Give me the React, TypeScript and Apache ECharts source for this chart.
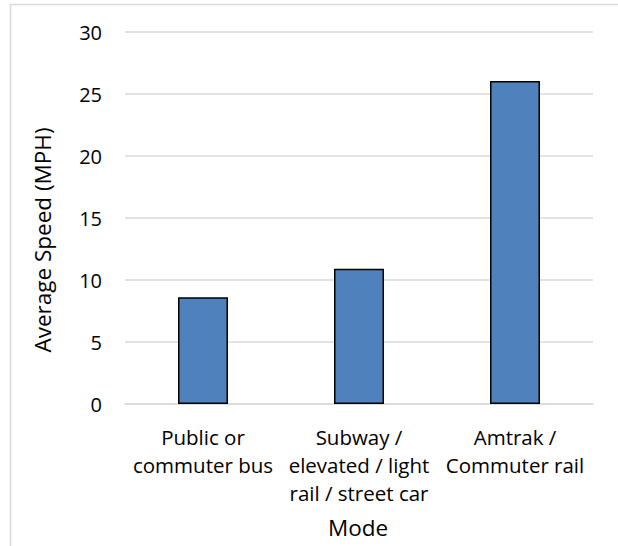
import React, { useEffect, useRef } from "react";
import * as echarts from "echarts";

const categories = [
  "Public or\ncommuter bus",
  "Subway /\nelevated / light\nrail / street car",
  "Amtrak /\nCommuter rail",
];
const speeds = [8.6, 10.9, 26.05];
const yTicks = { min: 0, max: 30, interval: 5 };
const yTitle = "Average Speed (MPH)";
const xTitle = "Mode";

const FONT = "'Open Sans', sans-serif";

export default function App() {
  const ref = useRef<HTMLDivElement>(null);
  useEffect(() => {
    document.body.style.margin = "0";
    if (!ref.current) return;
    const chart = echarts.init(ref.current, undefined, { renderer: "svg" });
    chart.setOption({
      animation: false,
      backgroundColor: "#ffffff",
      textStyle: { fontFamily: FONT },
      grid: { left: 125, right: 25, top: 32, bottom: 142, containLabel: false },
      xAxis: {
        type: "category",
        data: categories,
        axisLine: { show: true, lineStyle: { color: "#d9d9d9", width: 1.5 } },
        axisTick: { show: false },
        axisLabel: {
          interval: 0,
          margin: 19,
          color: "#000",
          fontSize: 20.5,
          fontFamily: FONT,
          lineHeight: 28,
          verticalAlign: "top",
        },
      },
      yAxis: {
        type: "value",
        min: yTicks.min,
        max: yTicks.max,
        interval: yTicks.interval,
        axisLine: { show: false },
        axisTick: { show: false },
        axisLabel: { margin: 23, color: "#000", fontSize: 20, fontFamily: FONT },
        splitLine: { lineStyle: { color: "#d9d9d9", width: 1.5 } },
      },
      series: [
        {
          type: "bar",
          data: speeds,
          barWidth: 50,
          itemStyle: { color: "#4f81bd", borderColor: "#000", borderWidth: 1.5 },
        },
      ],
      graphic: [
        {
          type: "rect",
          shape: { x: 10.5, y: 4.5, width: 800, height: 800 },
          style: { fill: "none", stroke: "#d9d9d9", lineWidth: 1.5 },
          silent: true,
        },
        {
          type: "text",
          x: 42,
          y: 240,
          rotation: Math.PI / 2,
          style: {
            text: yTitle,
            fontSize: 22.5,
            fontFamily: FONT,
            fill: "#000",
            align: "center",
            verticalAlign: "middle",
          },
        },
        {
          type: "text",
          x: 358,
          y: 527,
          style: {
            text: xTitle,
            fontSize: 22.5,
            fontFamily: FONT,
            fill: "#000",
            align: "center",
            verticalAlign: "middle",
          },
        },
      ],
    });
    return () => chart.dispose();
  }, []);
  return <div ref={ref} style={{ width: 618, height: 546 }} />;
}
